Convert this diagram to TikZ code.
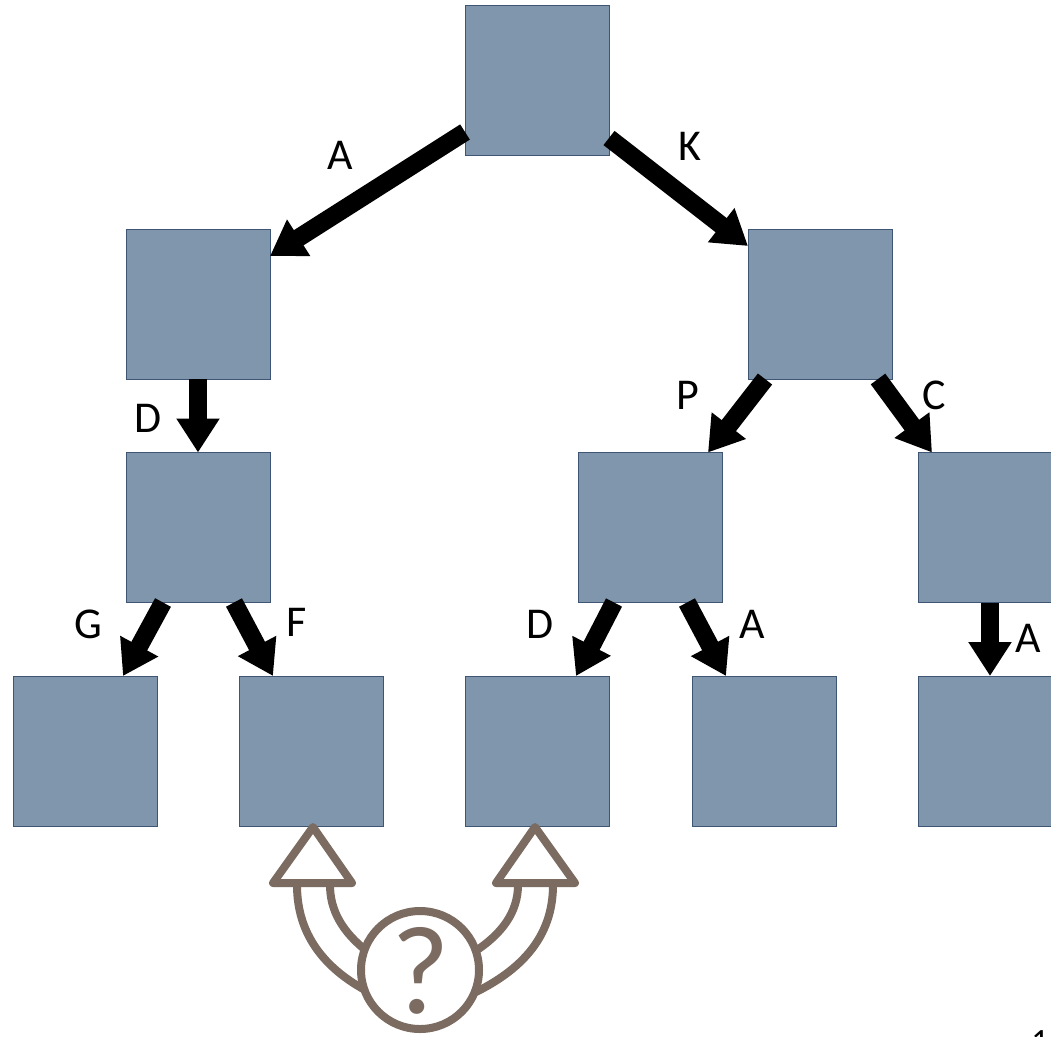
\documentclass[tikz,border=0pt]{standalone}
\usepackage{fontspec}
\setmainfont{Carlito}
\usetikzlibrary{arrows.meta}
\definecolor{boxfill}{HTML}{7F96AD}
\definecolor{boxline}{HTML}{3E5573}
\definecolor{icon}{HTML}{7B6B60}
\begin{document}
\begin{tikzpicture}[x=1pt,y=-1pt,
 tbox/.style={draw=boxline,line width=1pt,fill=boxfill,minimum width=144pt,minimum height=150pt,inner sep=0pt,outer sep=0pt},
 arr/.style={line width=18pt,-{Triangle[width=41pt,length=34pt]}},
 lab/.style={font=\fontsize{44}{44}\selectfont,inner sep=0pt},
 ic/.style={draw=icon,line width=8pt,line join=round,line cap=round}]
\useasboundingbox (0,0) rectangle (1051,1036);
\clip (0,0) rectangle (1051,1036);
% boxes
\node[tbox] (root) at (537,80) {};
\node[tbox] (l1a) at (198,304) {};
\node[tbox] (l1b) at (820,304) {};
\node[tbox] (l2a) at (198,527.5) {};
\node[tbox] (l2b) at (650,527.5) {};
\node[tbox] (l2c) at (990,527.5) {};
\node[tbox] (l3a) at (85,751) {};
\node[tbox] (l3b) at (311,751) {};
\node[tbox] (l3c) at (537,751) {};
\node[tbox] (l3d) at (764,751) {};
\node[tbox] (l3e) at (990,751) {};
% arrows
\draw[arr] ([yshift=23pt]root.south west) -- ([yshift=-27pt]l1a.north east);
\draw[arr] ([yshift=17pt]root.south east) -- ([yshift=-17pt]l1b.north west);
\draw[arr] (l1a.south) -- (l2a.north);
\draw[arr] ([xshift=-55pt]l1b.south) -- ([xshift=-14pt]l2b.north east);
\draw[arr] ([xshift=-14pt]l1b.south east) -- ([xshift=14pt]l2c.north west);
\draw[arr] ([xshift=37pt]l2a.south west) -- ([xshift=-34pt]l3a.north east);
\draw[arr] ([xshift=-36pt]l2a.south east) -- ([xshift=34pt]l3b.north west);
\draw[arr] ([xshift=36pt]l2b.south west) -- ([xshift=-33pt]l3c.north east);
\draw[arr] ([xshift=-35pt]l2b.south east) -- ([xshift=34pt]l3d.north west);
\draw[arr] (l2c.south) -- (l3e.north);
% labels
\node[lab] (tA) at (340,155) {A};
\node[lab] (tK) at (690,146) {K};
\node[lab] (tD1) at (148,418) {D};
\node[lab] (tP) at (688,395) {P};
\node[lab] (tC) at (934,395) {C};
\node[lab] (tG) at (88,624) {G};
\node[lab] (tF) at (297,622) {F};
\node[lab] (tD2) at (540,624) {D};
\node[lab] (tA2) at (752,624) {A};
\node[lab] (tA3) at (1028,638) {A};
% question icon
\draw[ic] (297,885) .. controls (297,935) and (325,968) .. (365,990);
\draw[ic] (330,885) .. controls (330,910) and (342,932) .. (368,952);
\draw[ic] (518,885) .. controls (518,912) and (502,934) .. (474,952);
\draw[ic] (553,885) .. controls (553,938) and (520,970) .. (476,992);
\draw[ic,fill=white] (313,827) -- (352,883) -- (273,883) -- cycle;
\draw[ic,fill=white] (535,827) -- (575,883) -- (496,883) -- cycle;
\node[ic,circle,fill=white,minimum size=118pt,inner sep=0pt] (q) at (420,970) {};
\node[text=icon,font=\fontsize{126}{126}\selectfont,inner sep=0pt,anchor=base] (qm) at (421,1013) {?};
\node[font=\fontsize{34}{34}\selectfont,anchor=base] (pg) at (1040,1052) {1};
\end{tikzpicture}
\end{document}
